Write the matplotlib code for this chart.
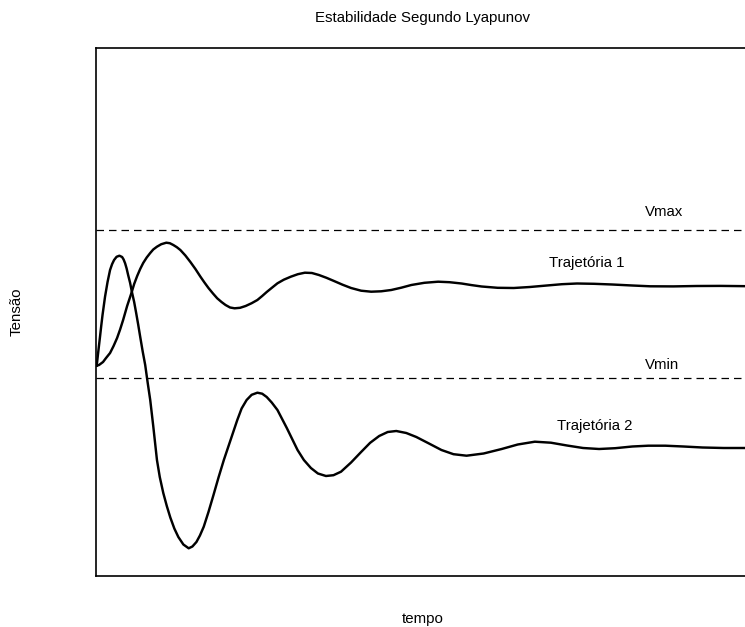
import matplotlib
matplotlib.use("Agg")
from matplotlib import pyplot as plt

plt.rcParams["font.family"] = ["Liberation Sans", "DejaVu Sans"]

# limiares de tensão
vmax = 346
vmin = 198

# trajetória 1: oscilação amortecida acima de Vmin
t1 = [0.7, 3, 7, 10, 14, 17.5, 21, 24, 27, 31, 35.7, 38, 41, 44, 47, 50.5,
      54, 57, 60.7, 65, 70, 73.5, 77, 80.5, 84, 89, 94, 99, 104, 108, 112,
      116.5, 120.7, 125, 129, 133.5, 138, 143.5, 149, 155, 160.7, 165.5, 170,
      175.5, 180.7, 187, 194, 201, 208, 215, 222, 229.5, 237, 245.5, 254, 264,
      274, 284, 294, 304, 314, 327, 340.7, 352, 364, 374, 384, 400, 416, 432,
      449, 464, 479, 496, 514, 534, 552, 575, 598, 622, 649]
v1 = [210.3, 211, 214, 218, 223, 230, 238, 246.5, 256, 270, 284.3, 292, 300,
      307, 313, 318.5, 323, 326.5, 329.3, 331.8, 333.3, 332.8, 331, 328.8, 326,
      320.5, 314, 307, 299.3, 293.5, 288, 282.5, 277.7, 274, 271, 268.5, 267.7,
      268.2, 270, 272.8, 276, 280, 284, 288.5, 292.7, 296.3, 299.3, 301.8,
      303.3, 303, 301, 298.2, 295, 291.3, 288, 285.3, 284.3, 284.7, 286, 288.3,
      291, 293.2, 294.3, 293.8, 292.5, 290.9, 289.5, 288.2, 288, 289, 290.5,
      291.8, 292.5, 292.2, 291.5, 290.5, 289.7, 289.6, 290, 290.1, 289.8]

# trajetória 2: oscilação amortecida abaixo de Vmin
t2 = [0.7, 2, 4, 5.2, 6.5, 7.8, 9, 11.5, 14, 16, 18, 20.5, 23.3, 26, 27.5, 29,
      30.5, 32, 34, 35.7, 38, 40, 42, 44, 46.5, 49, 51.5, 54, 57, 60.7, 63.5,
      67, 70.5, 74, 78, 82, 87, 92.3, 96, 100, 103.5, 107.3, 112, 117, 122,
      127.3, 134, 140.7, 145, 150, 155, 160.7, 165.5, 170, 175, 180.7, 190,
      200.7, 207, 214, 221, 229, 236.5, 244, 254, 264, 273, 282, 290.5, 299,
      309, 319, 331, 344, 356, 369, 386, 404, 420, 437, 453, 469, 485, 501,
      517, 534, 550, 567, 585, 604, 625, 649]
v2 = [210.3, 222, 239.3, 250, 261, 270.5, 279.3, 294, 306, 311.8, 316, 319.2,
      320.3, 319, 316.5, 312.7, 307.5, 301, 293, 284.3, 274, 263, 251.5, 239.3,
      224.5, 211, 193, 176, 150, 116, 99, 83, 70, 58.5, 47.5, 39, 31.5, 27.7,
      29.5, 34, 40.5, 49.3, 64, 81, 98.5, 116, 136, 156, 167.5, 176, 181.2,
      183.3, 182.3, 179, 173.5, 166, 148, 126, 116, 108, 102.5, 100, 100.8,
      104.3, 113.5, 124, 133.2, 140, 144, 145, 143, 139, 132.8, 126, 121.8,
      120.3, 122.5, 127, 131.5, 134.3, 133.3, 130.5, 128, 127, 127.8, 129.5,
      130.3, 130.3, 129.5, 128.5, 128, 128]

fig = plt.figure(figsize=(7.45, 6.27), dpi=100)
ax = fig.add_axes([96 / 745, 51 / 627, 1 - 96 / 745 + 0.005, 528 / 627])

ax.axhline(vmax, color="black", lw=0.9, ls=(0, (6, 4)))
ax.axhline(vmin, color="black", lw=0.9, ls=(0, (6, 4)))
ax.plot(t1, v1, color="black", lw=1.75)
ax.plot(t2, v2, color="black", lw=1.75)

fs = 10.8
ax.text(566, 364, "Vmax", fontsize=fs, ha="center", va="center")
ax.text(564, 211, "Vmin", fontsize=fs, ha="center", va="center")
ax.text(489, 313, "Trajetória 1", fontsize=fs, ha="center", va="center")
ax.text(497, 150, "Trajetória 2", fontsize=fs, ha="center", va="center")

ax.set_xlim(0, 650)
ax.set_ylim(0, 528)
ax.set_xticks([])
ax.set_yticks([])
for s in ax.spines.values():
    s.set_linewidth(1.2)

ax.set_title("Estabilidade Segundo Lyapunov", fontsize=fs, pad=19)
ax.set_xlabel("tempo", fontsize=fs, labelpad=26)
ax.set_ylabel("Tensão", fontsize=fs, labelpad=52)

fig.savefig("out.png", dpi=100)
